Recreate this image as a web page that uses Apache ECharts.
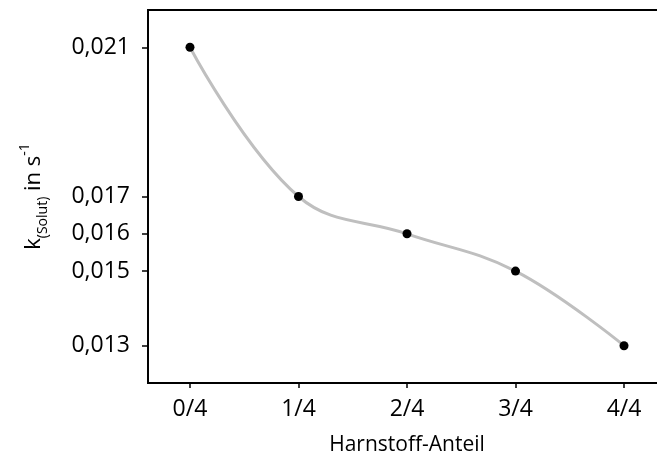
<!DOCTYPE html>
<html>
<head>
<meta charset="utf-8">
<script src="https://cdn.jsdelivr.net/npm/echarts@6/dist/echarts.min.js"></script>
<style>html,body{margin:0;padding:0;background:#fff;}#c{width:657px;height:464px;}</style>
</head>
<body>
<div id="c"></div>
<script>
var categories = ['0/4', '1/4', '2/4', '3/4', '4/4'];
var kValues = [0.021, 0.017, 0.016, 0.015, 0.013];
var yTicks = [0.013, 0.015, 0.016, 0.017, 0.021];
var xPositions = [0, 1, 2, 3, 4];

var chart = echarts.init(document.getElementById('c'));
var FONT = 'Open Sans';
chart.setOption({
  animation: false,
  backgroundColor: '#fff',
  grid: {left: 148, width: 518, top: 10, bottom: 81, show: true, borderColor: '#000', borderWidth: 1.8,
    backgroundColor: 'transparent', containLabel: false, outerBoundsMode: 'none'},
  xAxis: {
    type: 'value', min: -0.387, max: 4.387,
    axisLine: {show: true, onZero: false, lineStyle: {color: '#000', width: 1.8}},
    axisTick: {show: true, length: 5, lineStyle: {color: '#000', width: 1.5}, customValues: xPositions},
    axisLabel: {customValues: xPositions, color: '#000', fontFamily: FONT, fontSize: 23, margin: 15,
      formatter: function (v) { return categories[Math.round(v)]; }},
    splitLine: {show: false},
    name: 'Harnstoff-Anteil', nameLocation: 'middle', nameGap: 52,
    nameTextStyle: {color: '#000', fontFamily: FONT, fontSize: 21}
  },
  yAxis: {
    type: 'value', min: 0.012, max: 0.022,
    axisLine: {show: true, onZero: false, lineStyle: {color: '#000', width: 1.8}},
    axisTick: {show: true, length: 6, lineStyle: {color: '#000', width: 1.5}, customValues: yTicks},
    axisLabel: {customValues: yTicks, color: '#000', fontFamily: FONT, fontSize: 23, margin: 18,
      formatter: function (v) { return v.toFixed(3).replace('.', ','); }},
    splitLine: {show: false},
    name: '{m|k}{sub|(Solut)}{m| in s}{sup|-1}', nameLocation: 'middle', nameGap: 98, nameRotate: 90,
    nameTextStyle: {
      color: '#000', fontFamily: FONT, fontSize: 22,
      rich: {
        m: {fontFamily: FONT, fontSize: 22, color: '#000', lineHeight: 32, verticalAlign: 'middle'},
        sub: {fontFamily: FONT, fontSize: 14, color: '#000', lineHeight: 32, verticalAlign: 'bottom'},
        sup: {fontFamily: FONT, fontSize: 14, color: '#000', lineHeight: 32, verticalAlign: 'top'}
      }
    }
  },
  series: [{
    type: 'line',
    data: xPositions.map(function (x, i) { return [x, kValues[i]]; }),
    smooth: 0.4,
    lineStyle: {color: '#bfbfbf', width: 3},
    itemStyle: {color: '#000'},
    symbol: 'circle', symbolSize: 9,
    z: 3
  }]
});
</script>
</body>
</html>
